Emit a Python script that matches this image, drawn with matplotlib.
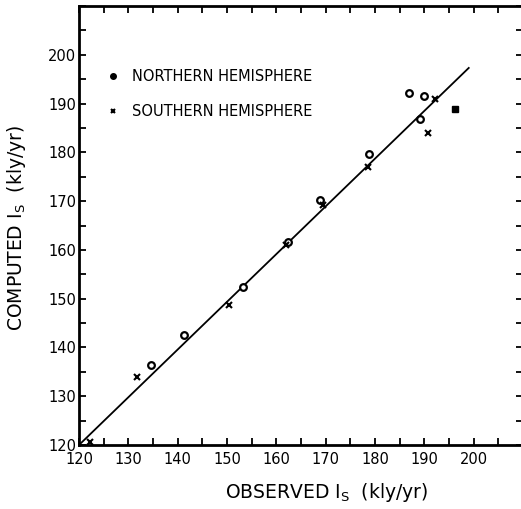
import matplotlib
matplotlib.use("Agg")
import matplotlib.pyplot as plt
from matplotlib.lines import Line2D
from matplotlib.ticker import MultipleLocator

# Data
north_x = [134.6, 141.3, 153.3, 162.4, 168.9, 178.8, 186.8, 190.0, 189.2]
north_y = [136.3, 142.5, 152.4, 161.6, 170.3, 179.6, 192.1, 191.6, 186.9]
south_x = [122.2, 131.7, 150.5, 162.0, 169.5, 178.6, 192.1, 190.7]
south_y = [120.6, 133.9, 148.8, 161.0, 169.2, 176.9, 190.9, 183.9]
extra_x = [196.3]
extra_y = [188.8]
line_x = [120, 199]
line_y = [120, 197.3]
tick_values = [120, 130, 140, 150, 160, 170, 180, 190, 200]
legend_labels = ["NORTHERN HEMISPHERE", "SOUTHERN HEMISPHERE"]

fig = plt.figure(figsize=(5.21, 5.09), dpi=100)
W, H = 521, 509
left, right, bottom, top = 79, 523, 445, 6
ax = fig.add_axes([left / W, 1 - bottom / H, (right - left) / W, (bottom - top) / H])

ax.plot(line_x, line_y, color="black", lw=1.3, zorder=2)
ax.plot(north_x, north_y, linestyle="none", marker="o", ms=4.8,
        mfc="white", mec="black", mew=1.6, zorder=3)
ax.plot(south_x, south_y, linestyle="none", marker="x", ms=4,
        mec="black", mew=1.5, zorder=3)
ax.plot(extra_x, extra_y, linestyle="none", marker="s", ms=4.2,
        mfc="black", mec="black", zorder=3)

ax.set_xlim(120, 210)
ax.set_ylim(120, 210)
ax.set_xticks(tick_values)
ax.set_yticks(tick_values)
ax.xaxis.set_minor_locator(MultipleLocator(5))
ax.yaxis.set_minor_locator(MultipleLocator(5))
ax.tick_params(which="both", direction="in", length=5, width=1.3,
               top=True, right=True, labelsize=10.5)
ax.tick_params(axis="x", pad=5)
ax.tick_params(axis="y", pad=2)
for s in ax.spines.values():
    s.set_linewidth(2)

ax.set_xlabel(r"OBSERVED I$_\mathrm{S}$  (kly/yr)", fontsize=13.5)
ax.set_ylabel(r"COMPUTED I$_\mathrm{S}$  (kly/yr)", fontsize=13.5)
ax.xaxis.set_label_coords((327 - left) / (right - left), -(492 - bottom) / (bottom - top))
ax.yaxis.set_label_coords(-(79 - 17) / (right - left), (445 - 228) / (bottom - top))
ax.xaxis.label.set_verticalalignment("center")
ax.yaxis.label.set_verticalalignment("center")

handles = [
    Line2D([], [], linestyle="none", marker="o", ms=4, mfc="black", mec="black"),
    Line2D([], [], linestyle="none", marker="x", ms=3.5, mec="black", mew=1.5),
]
ax.legend(handles, legend_labels, loc="upper left", bbox_to_anchor=(0.05, 0.87),
          frameon=False, fontsize=10.5, handlelength=0.8, handletextpad=0.9,
          labelspacing=1.4, borderaxespad=0)

fig.savefig("out.png", dpi=100)
